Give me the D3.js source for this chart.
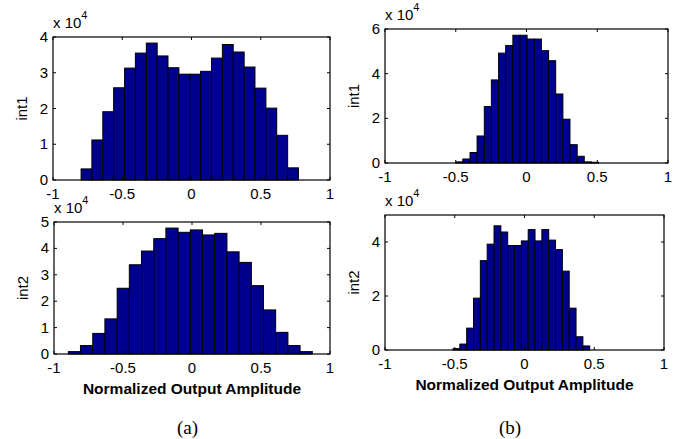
<!DOCTYPE html>
<html>
<head>
<meta charset="utf-8">
<script src="https://cdn.jsdelivr.net/npm/d3@7"></script>
<style>
  body { margin: 0; background: #fff; }
  svg { display: block; }
  .tick-label { font-family: Arial, 'Liberation Sans', sans-serif; font-size: 15px; fill: #000; }
  .axis-title { font-family: Arial, 'Liberation Sans', sans-serif; font-size: 15.5px; font-weight: bold; fill: #000; }
  .caption { font-family: 'Times New Roman', 'Liberation Serif', serif; font-size: 19px; fill: #000; }
</style>
</head>
<body>
<svg id="chart" width="691" height="439"></svg>
<script>
'use strict';

// bin centres and counts
const a1Centers = [-0.758, -0.680, -0.601, -0.523, -0.444, -0.366, -0.287, -0.209, -0.130, -0.052,
  0.027, 0.105, 0.184, 0.262, 0.341, 0.419, 0.498, 0.576, 0.655, 0.733];
const a1Counts = [3100, 11200, 19100, 25800, 31300, 35500, 38300, 34700, 31400, 29600,
  29600, 30400, 34100, 37900, 35800, 31600, 25700, 20100, 12500, 3400];

const a2Centers = [-0.852, -0.764, -0.675, -0.587, -0.498, -0.410, -0.322, -0.233, -0.145, -0.056,
  0.032, 0.120, 0.209, 0.297, 0.386, 0.474, 0.562, 0.651, 0.739, 0.828];
const a2Counts = [900, 3200, 7800, 13300, 24900, 33800, 39000, 43700, 47700, 46100,
  47000, 45100, 45700, 38700, 34700, 25900, 16700, 8200, 3200, 900];

const b1Centers = [-0.475, -0.425, -0.374, -0.324, -0.273, -0.223, -0.172, -0.122, -0.071, -0.021,
  0.030, 0.080, 0.131, 0.181, 0.232, 0.282, 0.333, 0.383, 0.434, 0.484];
const b1Counts = [500, 1800, 4700, 12100, 25300, 37200, 49200, 52600, 57200, 57200,
  55500, 55500, 50300, 45800, 30900, 19600, 8200, 3000, 500, 300];

const b2Centers = [-0.488, -0.439, -0.390, -0.341, -0.292, -0.243, -0.194, -0.145, -0.096, -0.047,
  0.002, 0.051, 0.100, 0.149, 0.198, 0.247, 0.296, 0.345, 0.394, 0.443];
const b2Counts = [500, 2200, 8100, 19200, 33100, 39200, 46000, 43700, 38700, 38700,
  40400, 44600, 40400, 44600, 40700, 37200, 29200, 15500, 4900, 1500];

const xTicks = [-1, -0.5, 0, 0.5, 1];
const xTickLabels = ['-1', '-0.5', '0', '0.5', '1'];
const yLabels = ['int1', 'int2', 'int1', 'int2'];
const yMax = [40000, 50000, 60000, 50000];
const yTicks = [
  [0, 10000, 20000, 30000, 40000],
  [0, 10000, 20000, 30000, 40000, 50000],
  [0, 20000, 40000, 60000],
  [0, 20000, 40000]
];
const xTitle = 'Normalized Output Amplitude';
const captions = ['(a)', '(b)'];

const svg = d3.select('#chart');

// box of each axes, in pixels
const panels = [
  { centers: a1Centers, counts: a1Counts, left: 53, top: 37, right: 330, bottom: 180, title: false },
  { centers: a2Centers, counts: a2Counts, left: 54, top: 222, right: 330, bottom: 354, title: true },
  { centers: b1Centers, counts: b1Counts, left: 385, top: 29, right: 668, bottom: 163, title: false },
  { centers: b2Centers, counts: b2Counts, left: 385, top: 215, right: 664, bottom: 350, title: true }
];

panels.forEach((p, i) => drawPanel(p, i));

function drawPanel(p, i) {
  const x = d3.scaleLinear().domain([-1, 1]).range([p.left, p.right]);
  const y = d3.scaleLinear().domain([0, yMax[i]]).range([p.bottom, p.top]);
  const n = p.centers.length;
  const w = (p.centers[n - 1] - p.centers[0]) / (n - 1);
  const g = svg.append('g');

  g.append('g')
    .selectAll('rect')
    .data(p.centers.map((c, k) => ({ c: c, v: p.counts[k] })))
    .join('rect')
    .attr('x', d => x(d.c - w / 2))
    .attr('y', d => y(d.v))
    .attr('width', d => x(d.c + w / 2) - x(d.c - w / 2))
    .attr('height', d => y(0) - y(d.v))
    .attr('fill', '#00008f')
    .attr('stroke', '#000')
    .attr('stroke-width', 1);

  // inward ticks on all four sides, MATLAB style
  const tl = 3;
  const ticks = g.append('g').attr('stroke', '#000').attr('stroke-width', 1);
  xTicks.forEach(t => {
    ticks.append('line').attr('x1', x(t)).attr('x2', x(t)).attr('y1', p.bottom).attr('y2', p.bottom - tl);
    ticks.append('line').attr('x1', x(t)).attr('x2', x(t)).attr('y1', p.top).attr('y2', p.top + tl);
  });
  yTicks[i].forEach(t => {
    ticks.append('line').attr('x1', p.left).attr('x2', p.left + tl).attr('y1', y(t)).attr('y2', y(t));
    ticks.append('line').attr('x1', p.right).attr('x2', p.right - tl).attr('y1', y(t)).attr('y2', y(t));
  });

  g.append('rect')
    .attr('x', p.left)
    .attr('y', p.top)
    .attr('width', p.right - p.left)
    .attr('height', p.bottom - p.top)
    .attr('fill', 'none')
    .attr('stroke', '#000')
    .attr('stroke-width', 1.2);

  g.append('g')
    .selectAll('text')
    .data(xTicks)
    .join('text')
    .attr('class', 'tick-label')
    .attr('x', d => x(d))
    .attr('y', p.bottom + 19)
    .attr('text-anchor', 'middle')
    .text((d, k) => xTickLabels[k]);

  g.append('g')
    .selectAll('text')
    .data(yTicks[i])
    .join('text')
    .attr('class', 'tick-label')
    .attr('x', p.left - 5)
    .attr('y', d => y(d) + 5)
    .attr('text-anchor', 'end')
    .text(d => d / 10000);

  // exponent label
  const ex = g.append('text')
    .attr('class', 'tick-label')
    .attr('x', p.left)
    .attr('y', p.top - 9);
  ex.append('tspan').text('x 10');
  ex.append('tspan').attr('dy', -9).style('font-size', '11px').text('4');

  g.append('text')
    .attr('class', 'tick-label')
    .attr('transform', 'translate(' + (p.left - 26) + ',' + ((p.top + p.bottom) / 2) + ') rotate(-90)')
    .attr('text-anchor', 'middle')
    .text(yLabels[i]);

  if (p.title) {
    g.append('text')
      .attr('class', 'axis-title')
      .attr('x', (p.left + p.right) / 2)
      .attr('y', p.bottom + 40)
      .attr('text-anchor', 'middle')
      .text(xTitle);
  }
}

svg.selectAll('text.caption')
  .data(captions)
  .join('text')
  .attr('class', 'caption')
  .attr('x', (d, k) => k === 0 ? 187.5 : 510)
  .attr('y', 434)
  .attr('text-anchor', 'middle')
  .text(d => d);
</script>
</body>
</html>
